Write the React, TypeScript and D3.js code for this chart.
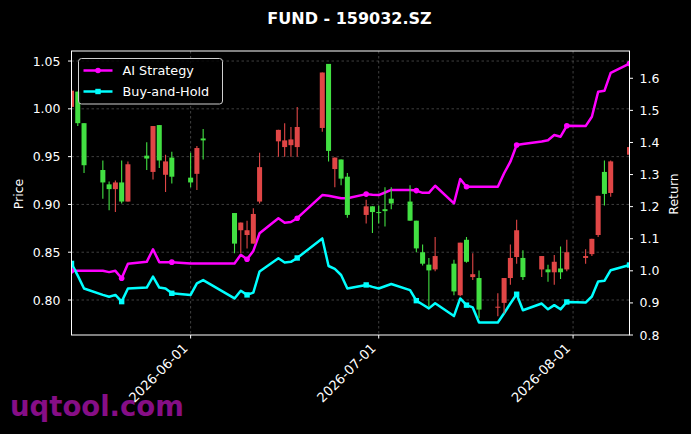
import * as d3 from "d3";

// trading days shown in the chart
const dates = [
  "2026-05-13", "2026-05-14", "2026-05-15", "2026-05-18", "2026-05-19", "2026-05-20", "2026-05-21", "2026-05-22",
  "2026-05-25", "2026-05-26", "2026-05-27", "2026-05-28", "2026-05-29", "2026-06-01", "2026-06-02", "2026-06-03",
  "2026-06-08", "2026-06-09", "2026-06-10", "2026-06-11", "2026-06-12", "2026-06-15", "2026-06-16", "2026-06-17",
  "2026-06-18", "2026-06-22", "2026-06-23", "2026-06-24", "2026-06-25", "2026-06-26", "2026-06-29", "2026-06-30",
  "2026-07-01", "2026-07-02", "2026-07-03", "2026-07-06", "2026-07-07", "2026-07-08", "2026-07-09", "2026-07-10",
  "2026-07-13", "2026-07-14", "2026-07-15", "2026-07-16", "2026-07-17", "2026-07-20", "2026-07-21", "2026-07-22",
  "2026-07-23", "2026-07-24", "2026-07-27", "2026-07-28", "2026-07-29", "2026-07-30", "2026-07-31", "2026-08-03",
  "2026-08-04", "2026-08-05", "2026-08-06", "2026-08-07", "2026-08-10",
];

const opens = [
  1.002, 1.018, 0.985, 0.936, 0.921, 0.916, 0.923, 0.903, 0.951, 0.934, 0.983, 0.931, 0.949, 0.928, 0.932, 0.969,
  0.891, 0.873, 0.868, 0.859, 0.903, 0.966, 0.960, 0.962, 0.960, 0.980, 1.047, 0.937, 0.947, 0.929, 0.889, 0.898,
  0.892, 0.895, 0.906, 0.903, 0.883, 0.850, 0.837, 0.832, 0.838, 0.805, 0.863, 0.824, 0.823, 0.792, 0.797, 0.823,
  0.845, 0.844, 0.832, 0.832, 0.829, 0.833, 0.832, 0.844, 0.848, 0.868, 0.934, 0.912, 0.952,
];
const highs = [
  1.021, 1.018, 0.985, 0.946, 0.924, 0.925, 0.946, 0.945, 0.965, 0.982, 0.983, 0.952, 0.955, 0.954, 0.961, 0.979,
  0.891, 0.881, 0.883, 0.896, 0.954, 0.978, 0.985, 0.981, 1.002, 1.038, 1.047, 0.949, 0.947, 0.933, 0.905, 0.898,
  0.899, 0.918, 0.918, 0.920, 0.883, 0.858, 0.844, 0.866, 0.842, 0.860, 0.866, 0.849, 0.831, 0.807, 0.823, 0.858,
  0.884, 0.852, 0.846, 0.837, 0.847, 0.856, 0.863, 0.853, 0.864, 0.909, 0.946, 0.946, 0.960,
];
const lows = [
  1.000, 0.982, 0.933, 0.906, 0.894, 0.892, 0.901, 0.903, 0.936, 0.926, 0.938, 0.913, 0.922, 0.918, 0.915, 0.947,
  0.849, 0.849, 0.854, 0.859, 0.901, 0.950, 0.950, 0.950, 0.950, 0.976, 0.945, 0.918, 0.920, 0.886, 0.880, 0.870,
  0.880, 0.877, 0.895, 0.883, 0.850, 0.836, 0.793, 0.830, 0.805, 0.804, 0.839, 0.821, 0.781, 0.783, 0.786, 0.816,
  0.838, 0.821, 0.824, 0.819, 0.816, 0.822, 0.830, 0.838, 0.846, 0.866, 0.899, 0.908, 0.952,
];
const closes = [
  1.019, 0.985, 0.941, 0.923, 0.916, 0.923, 0.903, 0.942, 0.948, 0.982, 0.946, 0.945, 0.929, 0.923, 0.959, 0.967,
  0.859, 0.881, 0.873, 0.890, 0.939, 0.978, 0.967, 0.968, 0.981, 1.038, 0.956, 0.949, 0.927, 0.889, 0.898, 0.892,
  0.891, 0.893, 0.901, 0.883, 0.854, 0.838, 0.831, 0.846, 0.809, 0.860, 0.840, 0.827, 0.790, 0.793, 0.823, 0.844,
  0.873, 0.824, 0.846, 0.829, 0.840, 0.829, 0.850, 0.846, 0.864, 0.909, 0.911, 0.945, 0.960,
];

const aiStrategy = [
  1.0, 1.0, 1.0, 1.0, 0.996, 1.0, 0.977, 1.022, 1.028, 1.067, 1.027, 1.027, 1.027, 1.023, 1.023, 1.023,
  1.023, 1.05, 1.036, 1.062, 1.117, 1.164, 1.15, 1.152, 1.164, 1.236, 1.234, 1.23, 1.226, 1.226, 1.239, 1.237,
  1.236, 1.244, 1.252, 1.252, 1.25, 1.243, 1.243, 1.265, 1.21, 1.286, 1.262, 1.262, 1.262, 1.262, 1.304, 1.34,
  1.392, 1.395, 1.403, 1.407, 1.423, 1.418, 1.452, 1.451, 1.48, 1.558, 1.561, 1.617, 1.646,
];
const buyAndHold = [
  1.023, 0.985, 0.945, 0.925, 0.919, 0.925, 0.904, 0.945, 0.948, 0.982, 0.948, 0.945, 0.93, 0.925, 0.961, 0.971,
  0.914, 0.938, 0.925, 0.932, 0.998, 1.039, 1.026, 1.028, 1.04, 1.101, 1.015, 1.006, 0.987, 0.945, 0.956, 0.95,
  0.945, 0.952, 0.959, 0.94, 0.907, 0.895, 0.883, 0.899, 0.859, 0.914, 0.893, 0.886, 0.839, 0.839, 0.868, 0.898,
  0.927, 0.877, 0.898, 0.88, 0.893, 0.88, 0.903, 0.901, 0.92, 0.967, 0.969, 1.002, 1.018,
];

const priceTicks = [0.8, 0.85, 0.9, 0.95, 1.0, 1.05];
const returnTicks = [0.8, 0.9, 1.0, 1.1, 1.2, 1.3, 1.4, 1.5, 1.6];
const dateTicks = ["2026-06-01", "2026-07-01", "2026-08-01"];

const W = 691;
const H = 434;
const left = 71.5;
const right = 629.5;
const top = 51;
const bottom = 335;
const font = "DejaVu Sans";
const upColor = "#e04646";
const downColor = "#42e042";
const aiColor = "#ff00ff";
const bhColor = "#00ffff";

export default function App() {
  const parse = d3.utcParse("%Y-%m-%d");
  const days = dates.map((d) => parse(d) as Date);
  const x = d3.scaleUtc().domain([days[0], days[days.length - 1]]).range([left, right]);
  const yPrice = d3.scaleLinear().domain([0.7634, 1.0605]).range([bottom, top]);
  const yRet = d3.scaleLinear().domain([0.8, 1.685]).range([bottom, top]);
  const dayPx = x(parse("2026-05-14") as Date) - x(days[0]);
  const bodyW = dayPx * 0.8;

  const aiLine = d3
    .line<number>()
    .x((_, i) => x(days[i]))
    .y((v) => yRet(v))(aiStrategy) ?? "";
  const bhLine = d3
    .line<number>()
    .x((_, i) => x(days[i]))
    .y((v) => yRet(v))(buyAndHold) ?? "";
  const markIdx = days.map((_, i) => i).filter((i) => i % 6 === 0);

  return (
    <svg width={W} height={H} style={{ position: "absolute", left: 0, top: 0, display: "block" }} fontFamily={font}>
      <defs>
        <clipPath id="plot">
          <rect x={left} y={top} width={right - left} height={bottom - top} />
        </clipPath>
      </defs>
      <rect width={W} height={H} fill="#000" />

      <text x={W / 2 + 4} y={23.5} fill="#fff" fontSize={16} fontWeight="bold" textAnchor="middle">
        FUND - 159032.SZ
      </text>

      {/* grid */}
      {priceTicks.map((t) => (
        <line key={t} x1={left} x2={right} y1={yPrice(t)} y2={yPrice(t)} stroke="#6a6a6a" strokeWidth={0.6} strokeDasharray="2.5,2.5" />
      ))}
      {dateTicks.map((t) => {
        const xx = x(parse(t) as Date);
        return <line key={t} x1={xx} x2={xx} y1={top} y2={bottom} stroke="#6a6a6a" strokeWidth={0.6} strokeDasharray="2.5,2.5" />;
      })}

      <g clipPath="url(#plot)">
        <path d={aiLine} fill="none" stroke={aiColor} strokeWidth={2.5} strokeLinejoin="round" />
        <path d={bhLine} fill="none" stroke={bhColor} strokeWidth={2.5} strokeLinejoin="round" />
        {markIdx.map((i) => (
          <circle key={"a" + i} cx={x(days[i])} cy={yRet(aiStrategy[i])} r={2.8} fill={aiColor} />
        ))}
        {markIdx.map((i) => (
          <rect key={"b" + i} x={x(days[i]) - 2.7} y={yRet(buyAndHold[i]) - 2.7} width={5.4} height={5.4} fill={bhColor} />
        ))}
        {days.map((d, i) => {
          const cx = x(d);
          const up = closes[i] >= opens[i];
          const c = up ? upColor : downColor;
          const y0 = yPrice(Math.max(opens[i], closes[i]));
          const y1 = yPrice(Math.min(opens[i], closes[i]));
          return (
            <g key={dates[i]}>
              <line x1={cx} x2={cx} y1={yPrice(highs[i])} y2={yPrice(lows[i])} stroke={c} strokeWidth={1.1} />
              <rect x={cx - bodyW / 2} y={y0} width={bodyW} height={Math.max(1, y1 - y0)} fill={c} />
            </g>
          );
        })}
      </g>

      <text x={10} y={416} fill="#860e86" fontSize={27.5} fontWeight="bold">
        uqtool.com
      </text>

      {/* frame */}
      <rect x={left} y={top} width={right - left} height={bottom - top} fill="none" stroke="#fff" strokeWidth={1} />

      {/* left axis */}
      {priceTicks.map((t) => (
        <g key={t} transform={`translate(${left},${yPrice(t)})`}>
          <line x1={-3.5} x2={0} stroke="#fff" />
          <text x={-11} dy="0.36em" fill="#fff" fontSize={12.5} textAnchor="end">
            {t.toFixed(2)}
          </text>
        </g>
      ))}
      <text transform={`translate(22.5,194) rotate(-90)`} fill="#fff" fontSize={12.5} textAnchor="middle">
        Price
      </text>

      {/* right axis */}
      {returnTicks.map((t) => (
        <g key={t} transform={`translate(${right},${yRet(t)})`}>
          <line x1={0} x2={3.5} stroke="#fff" />
          <text x={10} dy="0.36em" fill="#fff" fontSize={12.5}>
            {t.toFixed(1)}
          </text>
        </g>
      ))}
      <text transform={`translate(678,194) rotate(-90)`} fill="#fff" fontSize={12.5} textAnchor="middle">
        Return
      </text>

      {/* bottom axis */}
      {dateTicks.map((t) => {
        const xx = x(parse(t) as Date);
        return (
          <g key={t}>
            <line x1={xx} x2={xx} y1={bottom} y2={bottom + 3.5} stroke="#fff" />
            <text transform={`translate(${xx - 2},${bottom + 14}) rotate(-45)`} fill="#fff" fontSize={13.2} textAnchor="end">
              {t}
            </text>
          </g>
        );
      })}

      {/* legend */}
      <g>
        <rect x={78.5} y={58.5} width={144} height={45.5} rx={3} fill="#000" fillOpacity={0.8} stroke="#d0d0d0" strokeWidth={1} />
        <line x1={83.5} x2={112.5} y1={70.5} y2={70.5} stroke={aiColor} strokeWidth={2.5} />
        <circle cx={98} cy={70.5} r={2.8} fill={aiColor} />
        <text x={122.5} y={75} fill="#fff" fontSize={12.8}>
          AI Strategy
        </text>
        <line x1={83.5} x2={112.5} y1={91.5} y2={91.5} stroke={bhColor} strokeWidth={2.5} />
        <rect x={95.3} y={88.8} width={5.4} height={5.4} fill={bhColor} />
        <text x={122.5} y={96} fill="#fff" fontSize={12.8}>
          Buy-and-Hold
        </text>
      </g>
    </svg>
  );
}
